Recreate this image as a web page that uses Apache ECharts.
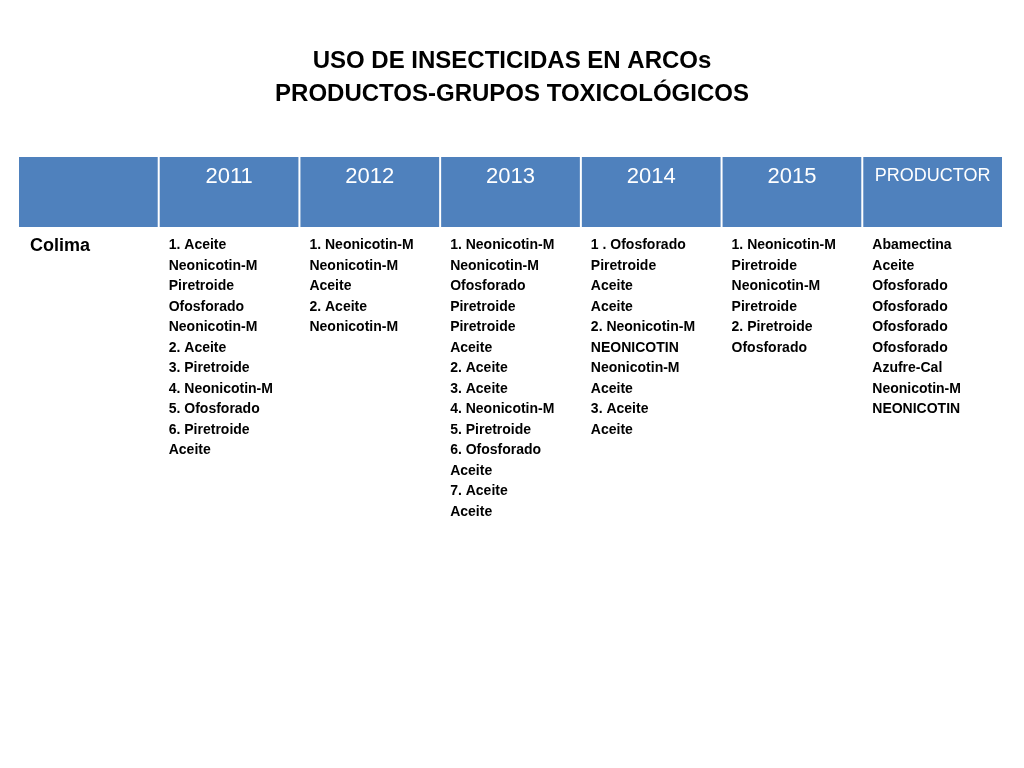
<!DOCTYPE html>
<html><head><meta charset="utf-8">
<script src="https://cdn.jsdelivr.net/npm/echarts@6/dist/echarts.min.js"></script>
<style>html,body{margin:0;padding:0;background:#fff}#c{width:1024px;height:768px}</style>
</head><body><div id="c"></div>
<script>
const titleLines = ['USO DE INSECTICIDAS EN ARCOs', 'PRODUCTOS-GRUPOS TOXICOLÓGICOS'];
const headers = ['', '2011', '2012', '2013', '2014', '2015', 'PRODUCTOR'];
const rowLabel = 'Colima';
// each entry: [prefix, product, prefixColoredLikeProduct]
const col2011 = [['1. ','Aceite'],['','Neonicotin-M'],['','Piretroide'],['','Ofosforado'],['','Neonicotin-M'],['2. ','Aceite'],['3. ','Piretroide'],['4. ','Neonicotin-M'],['5. ','Ofosforado'],['6. ','Piretroide'],['','Aceite']];
const col2012 = [['1. ','Neonicotin-M'],['','Neonicotin-M'],['','Aceite'],['2. ','Aceite'],['','Neonicotin-M']];
const col2013 = [['1. ','Neonicotin-M'],['','Neonicotin-M'],['','Ofosforado'],['','Piretroide'],['','Piretroide'],['','Aceite'],['2. ','Aceite'],['3. ','Aceite'],['4. ','Neonicotin-M'],['5. ','Piretroide',1],['6. ','Ofosforado'],['','Aceite'],['7. ','Aceite'],['','Aceite']];
const col2014 = [['1 . ','Ofosforado',1],['','Piretroide'],['','Aceite'],['','Aceite'],['2. ','Neonicotin-M'],['','NEONICOTIN'],['','Neonicotin-M'],['','Aceite'],['3. ','Aceite'],['','Aceite']];
const col2015 = [['1. ','Neonicotin-M',1],['','Piretroide'],['','Neonicotin-M'],['','Piretroide'],['2. ','Piretroide',1],['','Ofosforado']];
const colProd = [['','Abamectina'],['','Aceite'],['','Ofosforado'],['','Ofosforado'],['','Ofosforado'],['','Ofosforado'],['','Azufre-Cal'],['','Neonicotin-M'],['','NEONICOTIN']];
const bodyCols = [null, col2011, col2012, col2013, col2014, col2015, colProd];

const colorKey = {'Aceite':'k','Abamectina':'k','Azufre-Cal':'k','Neonicotin-M':'b','NEONICOTIN':'b','Piretroide':'g','Ofosforado':'r'};
const rich = {
  k:{color:'#000',fontWeight:'bold',fontSize:14,lineHeight:20.5,fontFamily:'Liberation Sans'},
  b:{color:'#0070c0',fontWeight:'bold',fontSize:14,lineHeight:20.5,fontFamily:'Liberation Sans'},
  g:{color:'#00b050',fontWeight:'bold',fontSize:14,lineHeight:20.5,fontFamily:'Liberation Sans'},
  r:{color:'#ff0000',fontWeight:'bold',fontSize:14,lineHeight:20.5,fontFamily:'Liberation Sans'}
};
function cellText(list){
  return list.map(([p,name,same])=>{
    const c = colorKey[name];
    return (p ? '{'+(same?c:'k')+'|'+p+'}' : '') + '{'+c+'|'+name+'}';
  }).join('\n');
}
const chart = echarts.init(document.getElementById('c'));
chart.setOption({
  animation:false,
  title:{text:titleLines.join('\n'),left:'center',top:40,textStyle:{fontSize:24,fontWeight:'bold',fontFamily:'Liberation Sans',lineHeight:33,color:'#000'}},
  grid:{left:18,right:21,top:157,height:380},
  xAxis:{type:'category',data:headers,show:false},
  yAxis:{type:'value',min:0,max:380,inverse:true,show:false},
  series:[{
    type:'custom',
    data:headers.map((h,i)=>[i]),
    renderItem:function(params,api){
      const i = api.value(0);
      const p = api.coord([i,0]);
      const w = api.size([1,0])[0];
      const x0 = p[0]-w/2;
      const children = [
        {type:'rect',shape:{x:x0+1,y:p[1],width:w-2,height:70},style:{fill:'#4f81bd'}},
        {type:'text',style:{text:headers[i],x:i===6?x0+w/2:x0+w/2,y:p[1]+(i===6?10:9),align:'center',fill:'#fff',fontSize:i===6?18:22,fontFamily:'Liberation Sans'}}
      ];
      if(i===0){
        children.push({type:'text',style:{text:rowLabel,x:x0+12,y:p[1]+80,fill:'#000',fontSize:18,fontWeight:'bold',fontFamily:'Liberation Sans'}});
      } else {
        children.push({type:'text',style:{text:cellText(bodyCols[i]),x:x0+10,y:p[1]+78,rich:rich,fontSize:14,lineHeight:20.5}});
      }
      return {type:'group',children:children};
    }
  }]
});
</script></body></html>
